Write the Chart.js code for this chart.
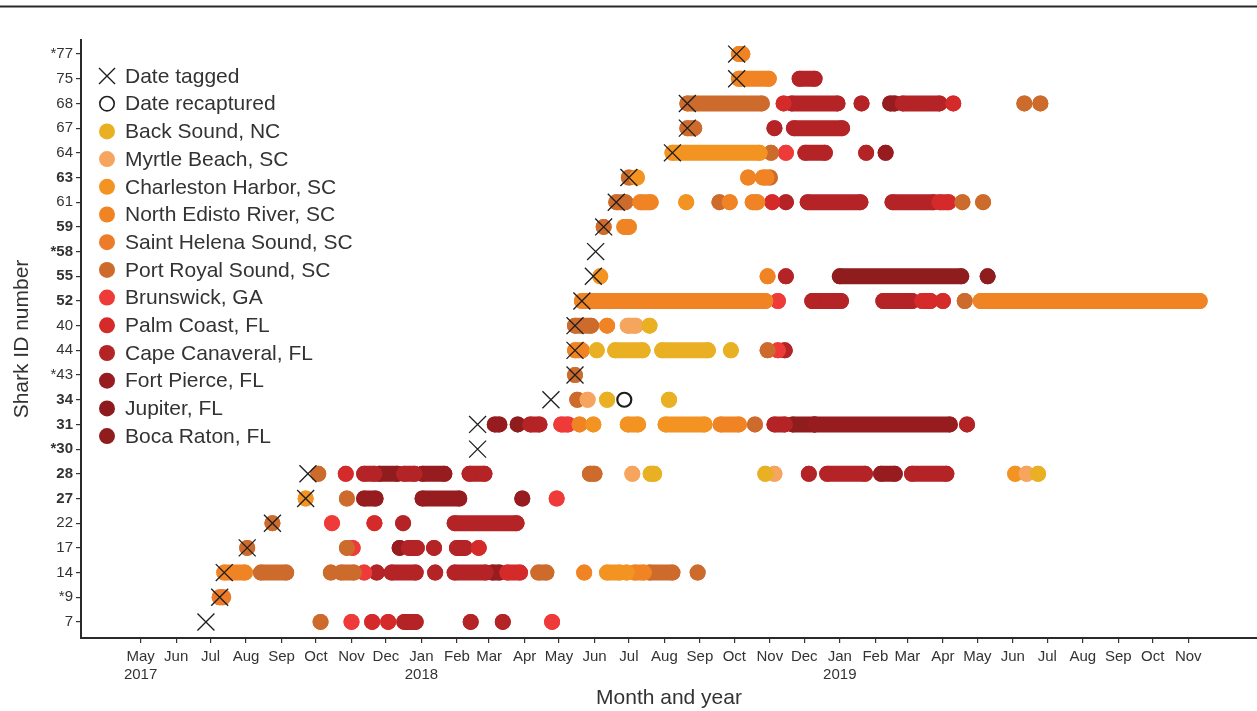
<!DOCTYPE html>
<html>
<head>
<meta charset="utf-8">
<title>Shark detections</title>
<script src="https://cdn.jsdelivr.net/npm/chart.js@4.4.1/dist/chart.umd.min.js"></script>
<style>
  html, body { margin: 0; padding: 0; background: #fff; }
  #wrap { width: 1257px; height: 711px; position: relative; }
</style>
</head>
<body>
<div id="wrap"><canvas id="chart"></canvas></div>
<script>
'use strict';

// y rows, bottom to top
const sharkIds = ['7', '*9', '14', '17', '22', '27', '28', '*30', '31', '34', '*43', '44',
                  '40', '52', '55', '*58', '59', '61', '63', '64', '67', '68', '75', '*77'];
const boldIds = ['27', '28', '*30', '31', '34', '52', '55', '*58', '59', '63'];

// date tagged, same order as sharkIds
const tagDates = ['2017-06-27', '2017-07-09', '2017-07-13', '2017-08-02', '2017-08-24', '2017-09-22',
                  '2017-09-24', '2018-02-19', '2018-02-19', '2018-04-24', '2018-05-15', '2018-05-15',
                  '2018-05-15', '2018-05-21', '2018-05-31', '2018-06-02', '2018-06-09', '2018-06-20',
                  '2018-07-01', '2018-08-08', '2018-08-21', '2018-08-21', '2018-10-03', '2018-10-03'];
const recapIds = ['34'];
const recapDates = ['2018-06-27'];

const locations = ['Back Sound, NC', 'Myrtle Beach, SC', 'Charleston Harbor, SC', 'North Edisto River, SC',
                   'Saint Helena Sound, SC', 'Port Royal Sound, SC', 'Brunswick, GA', 'Palm Coast, FL',
                   'Cape Canaveral, FL', 'Fort Pierce, FL', 'Jupiter, FL', 'Boca Raton, FL'];
const locationCodes = ['BS', 'MB', 'CH', 'NE', 'SH', 'PR', 'BR', 'PC', 'CC', 'FP', 'JU', 'BO'];
const locationColors = ['#E9B024', '#F5A55E', '#F39322', '#F08424', '#EC7B2A', '#CD6B2C',
                        '#EE3B39', '#D42A2A', '#B42326', '#961C1F', '#8D1A1C', '#901D1E'];

// detections per shark: [location, first day, last day of a run]
const s7  = [['PR', '2017-10-05'], ['BR', '2017-11-01'], ['PC', '2017-11-19'], ['PC', '2017-12-03'],
             ['CC', '2017-12-17', '2017-12-27'], ['CC', '2018-02-13'], ['CC', '2018-03-13'], ['BR', '2018-04-25']];
const s9  = [['SH', '2017-07-09', '2017-07-12']];
const s14 = [['NE', '2017-07-13', '2017-07-31'], ['PR', '2017-08-14', '2017-09-05'], ['PR', '2017-10-14'],
             ['PR', '2017-10-23', '2017-11-03'], ['BR', '2017-11-12'], ['CC', '2017-11-23'],
             ['CC', '2017-12-06', '2017-12-27'], ['CC', '2018-01-13'], ['CC', '2018-01-30', '2018-02-26'],
             ['FP', '2018-03-04', '2018-03-10'], ['PC', '2018-03-17', '2018-03-28'], ['PR', '2018-04-13', '2018-04-20'],
             ['NE', '2018-05-23'], ['CH', '2018-06-12', '2018-06-23'], ['CH', '2018-06-29'],
             ['NE', '2018-07-06', '2018-07-14'], ['PR', '2018-07-19', '2018-08-08'], ['PR', '2018-08-30']];
const s17 = [['PR', '2017-08-02'], ['PR', '2017-10-28'], ['BR', '2017-11-02'], ['FP', '2017-12-13'],
             ['CC', '2017-12-21', '2017-12-28'], ['CC', '2018-01-12'], ['CC', '2018-02-01', '2018-02-08'],
             ['PC', '2018-02-20']];
const s22 = [['PR', '2017-08-24'], ['BR', '2017-10-15'], ['PC', '2017-11-21'], ['CC', '2017-12-16'],
             ['CC', '2018-01-30', '2018-03-25']];
const s27 = [['CH', '2017-09-22'], ['PR', '2017-10-28'], ['FP', '2017-11-12', '2017-11-22'],
             ['FP', '2018-01-02', '2018-02-03'], ['FP', '2018-03-30'], ['BR', '2018-04-29']];
const s28 = [['PR', '2017-10-03'], ['PC', '2017-10-27'], ['CC', '2017-11-12', '2017-11-21'],
             ['BO', '2017-11-25', '2017-12-11'], ['CC', '2017-12-17', '2017-12-26'], ['FP', '2018-01-02', '2018-01-21'],
             ['CC', '2018-02-12', '2018-02-25'], ['PR', '2018-05-28', '2018-06-01'], ['MB', '2018-07-04'],
             ['BS', '2018-07-20', '2018-07-23'], ['BS', '2018-10-28'], ['MB', '2018-11-05'], ['CC', '2018-12-05'],
             ['CC', '2018-12-21', '2019-01-23'], ['FP', '2019-02-06', '2019-02-18'], ['CC', '2019-03-05', '2019-04-04'],
             ['CH', '2019-06-03'], ['MB', '2019-06-13'], ['BS', '2019-06-23']];
const s31 = [['FP', '2018-03-06', '2018-03-10'], ['BO', '2018-03-26'], ['CC', '2018-04-06', '2018-04-14'],
             ['BR', '2018-05-03', '2018-05-09'], ['NE', '2018-05-19'], ['CH', '2018-05-31'],
             ['CH', '2018-06-30', '2018-07-09'], ['CH', '2018-08-02', '2018-09-05'], ['NE', '2018-09-19', '2018-10-05'],
             ['PR', '2018-10-19'], ['CC', '2018-11-05', '2018-11-14'], ['BO', '2018-11-21', '2018-12-10'],
             ['FP', '2018-12-10', '2019-04-07'], ['CC', '2019-04-22']];
const s34 = [['PR', '2018-05-17'], ['MB', '2018-05-26'], ['BS', '2018-06-12'], ['BS', '2018-08-05']];
const s43 = [['PR', '2018-05-15']];
const s44 = [['NE', '2018-05-15', '2018-05-21'], ['BS', '2018-06-03'], ['BS', '2018-06-19', '2018-07-13'],
             ['BS', '2018-07-30', '2018-09-08'], ['BS', '2018-09-28'], ['PR', '2018-10-30'], ['BR', '2018-11-08'],
             ['CC', '2018-11-14']];
const s40 = [['PR', '2018-05-15', '2018-05-29'], ['NE', '2018-06-12'], ['MB', '2018-06-30', '2018-07-07'],
             ['BS', '2018-07-19']];
const s52 = [['NE', '2018-05-21', '2018-10-28'], ['PR', '2018-10-26'], ['BR', '2018-11-08'],
             ['CC', '2018-12-08', '2019-01-02'], ['CC', '2019-02-08', '2019-03-05'], ['PC', '2019-03-14', '2019-03-21'],
             ['PC', '2019-04-01'], ['PR', '2019-04-20'], ['NE', '2019-05-04', '2019-11-11']];
const s55 = [['CH', '2018-06-06'], ['NE', '2018-10-30'], ['CC', '2018-11-15'], ['BO', '2019-01-01', '2019-04-17'],
             ['BO', '2019-05-10']];
const s59 = [['PR', '2018-06-09'], ['NE', '2018-06-27', '2018-07-01']];
const s61 = [['PR', '2018-06-20', '2018-06-28'], ['NE', '2018-07-11', '2018-07-20'], ['CH', '2018-08-20'],
             ['PR', '2018-09-18'], ['NE', '2018-09-27'], ['NE', '2018-10-17', '2018-10-21'], ['PC', '2018-11-03'],
             ['CC', '2018-11-15'], ['CC', '2018-12-04', '2019-01-19'], ['CC', '2019-02-16', '2019-03-24'],
             ['PC', '2019-03-29', '2019-04-06'], ['PR', '2019-04-18'], ['PR', '2019-05-06']];
const s63 = [['PR', '2018-07-01'], ['CH', '2018-07-08'], ['NE', '2018-10-13'], ['NE', '2018-10-26', '2018-10-29'],
             ['PR', '2018-11-01']];
const s64 = [['CH', '2018-08-08', '2018-10-23'], ['PR', '2018-11-02'], ['BR', '2018-11-15'],
             ['CC', '2018-12-02', '2018-12-19'], ['CC', '2019-01-24'], ['FP', '2019-02-10']];
const s67 = [['PR', '2018-08-21', '2018-08-27'], ['CC', '2018-11-05'], ['CC', '2018-11-22', '2019-01-03']];
const s68 = [['PR', '2018-08-21', '2018-10-25'], ['PC', '2018-11-13'], ['CC', '2018-11-20', '2018-12-30'],
             ['CC', '2019-01-20'], ['FP', '2019-02-14', '2019-02-18'], ['CC', '2019-02-25', '2019-03-29'],
             ['PC', '2019-04-10'], ['PR', '2019-06-11'], ['PR', '2019-06-25']];
const s75 = [['NE', '2018-10-05', '2018-10-31'], ['CC', '2018-11-27', '2018-12-10']];
const s77 = [['NE', '2018-10-05', '2018-10-08']];

const detections = {
    '7': s7, '*9': s9, '14': s14, '17': s17, '22': s22, '27': s27, '28': s28, '31': s31, '34': s34,
    '*43': s43, '44': s44, '40': s40, '52': s52, '55': s55, '59': s59, '61': s61, '63': s63,
    '64': s64, '67': s67, '68': s68, '75': s75, '*77': s77
};

// x axis ticks
const monthNames = ['Jan', 'Feb', 'Mar', 'Apr', 'May', 'Jun', 'Jul', 'Aug', 'Sep', 'Oct', 'Nov', 'Dec'];
const firstMonth = '2017-05-01';
const lastMonth = '2019-11-01';

const FONT = "'Liberation Sans', Arial, Helvetica, sans-serif";
Chart.defaults.font.family = FONT;
Chart.defaults.color = '#333';

// days since epoch
const day = s => Date.UTC(+s.slice(0, 4), +s.slice(5, 7) - 1, +s.slice(8, 10)) / 864e5;

let monthTicks = [];
let tickLabels = [];
{
    let y = +firstMonth.slice(0, 4), m = +firstMonth.slice(5, 7) - 1;
    while (Date.UTC(y, m, 1) / 864e5 <= day(lastMonth)) {
        monthTicks.push(Date.UTC(y, m, 1) / 864e5);
        tickLabels.push(m === 0 || monthTicks.length === 1 ? [monthNames[m], String(y)] : monthNames[m]);
        m++;
        if (m === 12) { m = 0; y++; }
    }
}

// one line dataset per location, runs split by null gaps
const locData = locationCodes.map(() => []);
sharkIds.forEach((id, row) => {
    (detections[id] || []).forEach(([code, a, b]) => {
        const arr = locData[locationCodes.indexOf(code)];
        arr.push({ x: day(a), y: row });
        if (b) arr.push({ x: day(b), y: row });
        arr.push({ x: day(b || a), y: null });
    });
});

const datasets = [
    {
        label: 'Date tagged',
        data: tagDates.map((d, i) => ({ x: day(d), y: i })),
        showLine: false,
        pointStyle: 'crossRot',
        pointRadius: 12,
        pointBorderWidth: 1.3,
        pointBorderColor: '#1e1e1e',
        pointBackgroundColor: 'transparent'
    },
    {
        label: 'Date recaptured',
        data: recapIds.map((id, i) => ({ x: day(recapDates[i]), y: sharkIds.indexOf(id) })),
        showLine: false,
        pointStyle: 'circle',
        pointRadius: 7,
        pointBorderWidth: 2.2,
        pointBorderColor: '#1e1e1e',
        pointBackgroundColor: 'transparent'
    }
].concat(locations.map((name, i) => ({
    label: name,
    data: locData[i],
    borderColor: locationColors[i],
    backgroundColor: locationColors[i],
    borderWidth: 16,
    borderCapStyle: 'round',
    spanGaps: false,
    tension: 0,
    pointRadius: 8,
    pointBorderWidth: 0,
    pointBackgroundColor: locationColors[i]
})));

const legendItems = [{ text: 'Date tagged', kind: 'tag' }, { text: 'Date recaptured', kind: 'recap' }]
    .concat(locations.map((name, i) => ({ text: name, kind: 'dot', color: locationColors[i] })));

const sideLegend = {
    id: 'sideLegend',
    afterDraw(chart) {
        const { ctx, chartArea } = chart;
        const mx = chartArea.left + 26;
        const tx = chartArea.left + 44;
        ctx.save();
        ctx.font = '21px ' + FONT;
        ctx.textBaseline = 'middle';
        legendItems.forEach((it, i) => {
            const y = chartArea.top + 36 + i * 27.7;
            if (it.kind === 'tag') {
                ctx.strokeStyle = '#1e1e1e';
                ctx.lineWidth = 1.4;
                ctx.beginPath();
                ctx.moveTo(mx - 8, y - 8); ctx.lineTo(mx + 8, y + 8);
                ctx.moveTo(mx + 8, y - 8); ctx.lineTo(mx - 8, y + 8);
                ctx.stroke();
            } else if (it.kind === 'recap') {
                ctx.strokeStyle = '#1e1e1e';
                ctx.lineWidth = 1.6;
                ctx.beginPath();
                ctx.arc(mx, y, 7.2, 0, Math.PI * 2);
                ctx.stroke();
            } else {
                ctx.fillStyle = it.color;
                ctx.beginPath();
                ctx.arc(mx, y, 8, 0, Math.PI * 2);
                ctx.fill();
            }
            ctx.fillStyle = '#333';
            ctx.fillText(it.text, tx, y + 1);
        });
        ctx.restore();
    }
};

const topRule = {
    id: 'topRule',
    beforeDraw(chart) {
        const ctx = chart.ctx;
        ctx.save();
        ctx.strokeStyle = '#2a2a2a';
        ctx.lineWidth = 2;
        ctx.beginPath();
        ctx.moveTo(0, 6.5);
        ctx.lineTo(chart.width, 6.5);
        ctx.stroke();
        ctx.restore();
    }
};

new Chart(document.getElementById('chart'), {
    type: 'line',
    data: { datasets: datasets },
    options: {
        responsive: true,
        maintainAspectRatio: false,
        animation: false,
        events: [],
        layout: { autoPadding: false, padding: { top: 40, left: 0, right: 0, bottom: 0 } },
        plugins: {
            legend: { display: false },
            tooltip: { enabled: false }
        },
        scales: {
            x: {
                type: 'linear',
                min: day(firstMonth) - 52,
                max: day(lastMonth) + 60,
                afterBuildTicks: s => { s.ticks = monthTicks.map(v => ({ value: v })); },
                afterFit: s => { s.height = 73; s.paddingLeft = 0; s.paddingRight = 0; },
                ticks: {
                    autoSkip: false,
                    maxRotation: 0,
                    padding: 4,
                    color: '#333',
                    font: { size: 15, lineHeight: 1.25 },
                    callback: (v, i) => tickLabels[i]
                },
                grid: { drawOnChartArea: false, color: '#333', tickLength: 5, lineWidth: 1.2 },
                border: { color: '#2a2a2a', width: 2 },
                title: {
                    display: true, text: 'Month and year', color: '#333',
                    font: { size: 21 }, padding: { top: 0, bottom: 0 }
                }
            },
            y: {
                type: 'linear',
                min: -0.65,
                max: 23.57,
                afterBuildTicks: s => { s.ticks = sharkIds.map((_, i) => ({ value: i })); },
                afterFit: s => { s.width = 81; s.paddingTop = 0; s.paddingBottom = 0; },
                ticks: {
                    padding: 3,
                    color: '#333',
                    font: ctx => ({
                        size: 15,
                        weight: ctx.tick && boldIds.includes(sharkIds[ctx.tick.value]) ? 'bold' : 'normal'
                    }),
                    callback: v => sharkIds[v]
                },
                grid: { drawOnChartArea: false, color: '#333', tickLength: 5, lineWidth: 1.2 },
                border: { color: '#2a2a2a', width: 2 },
                title: {
                    display: true, text: 'Shark ID number', color: '#333',
                    font: { size: 21 }, padding: { top: 10, bottom: 0 }
                }
            }
        }
    },
    plugins: [topRule, sideLegend]
});
</script>
</body>
</html>
